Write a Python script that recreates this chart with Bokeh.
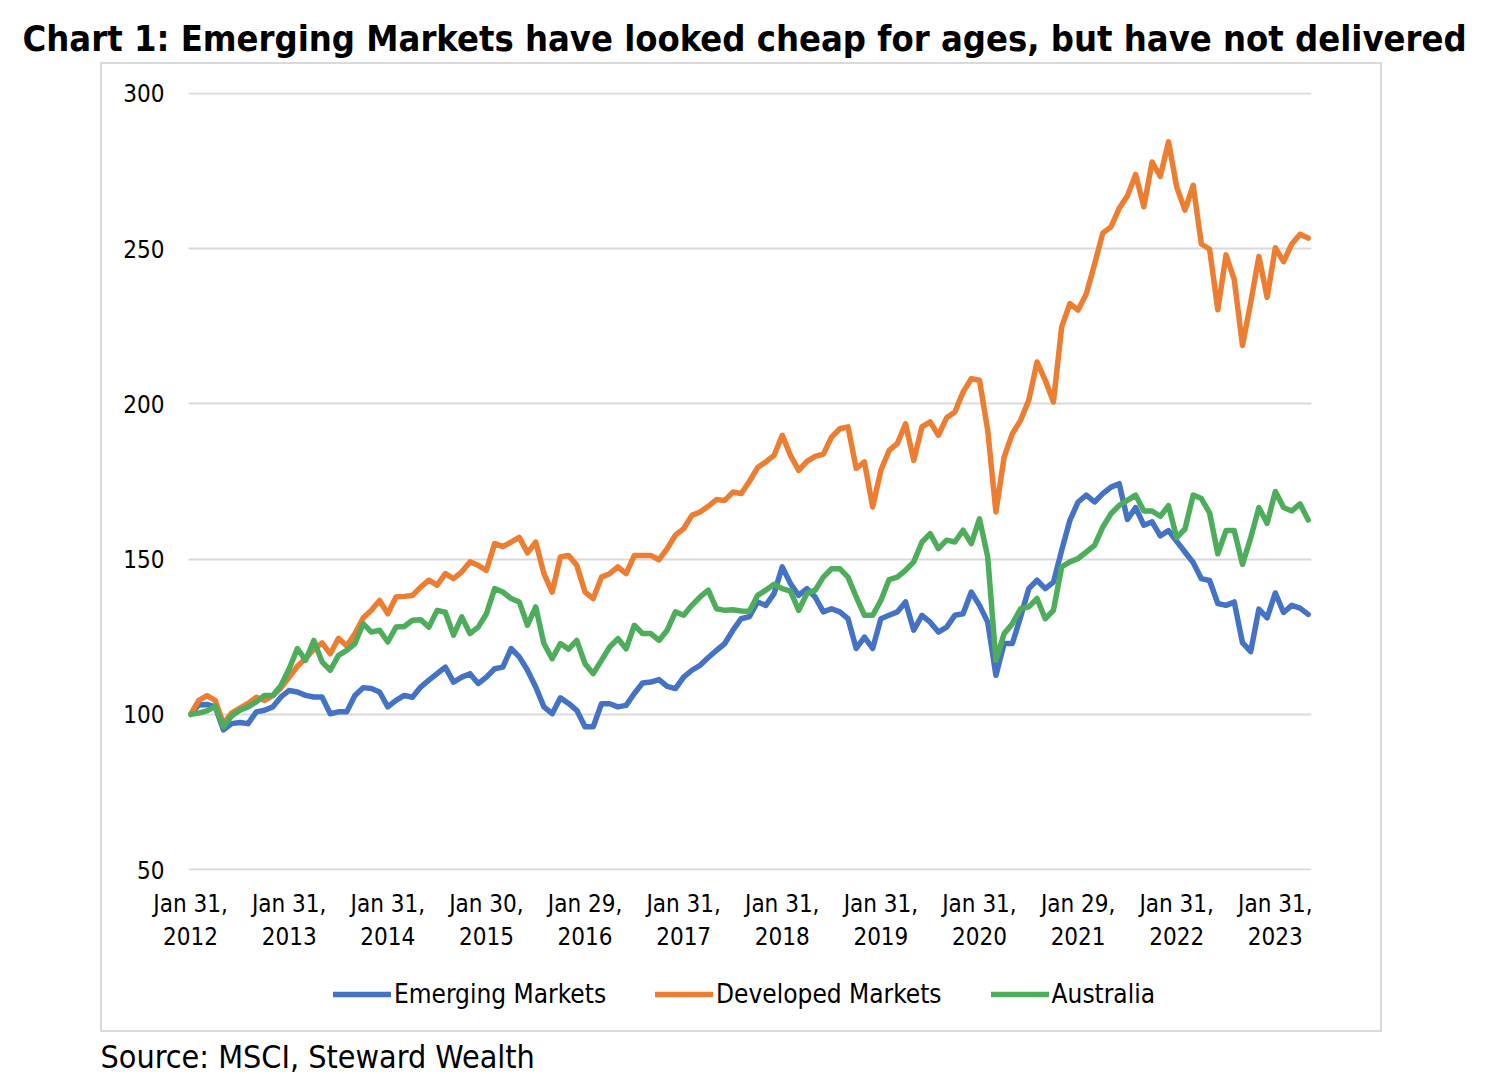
from bokeh.plotting import figure
from bokeh.layouts import column
from bokeh.models import (Range1d, FixedTicker, Legend, LegendItem, Title, Label,
                          ColumnDataSource, InlineStyleSheet)
from bokeh.embed import file_html
from bokeh.resources import INLINE

FONT = "DejaVu Sans Condensed"

# month index 0 = Jan 2012 ... 136 = May 2023
tick_months = [0, 12, 24, 36, 48, 60, 72, 84, 96, 108, 120, 132]
tick_labels = ["Jan 31,\n2012", "Jan 31,\n2013", "Jan 31,\n2014", "Jan 30,\n2015",
               "Jan 29,\n2016", "Jan 31,\n2017", "Jan 31,\n2018", "Jan 31,\n2019",
               "Jan 31,\n2020", "Jan 29,\n2021", "Jan 31,\n2022", "Jan 31,\n2023"]
y_ticks = [50, 100, 150, 200, 250, 300]
series_names = ["Emerging Markets", "Developed Markets", "Australia"]

emerging = [
    100, 103, 103.2, 102.4, 95, 97, 97.4, 97, 100.8, 101.3, 102.4, 105.6,
    107.7, 107.2, 106.1, 105.6, 105.6, 100.2, 100.8, 100.8, 106.1, 108.6, 108.3, 107.2,
    102.4, 104.5, 106.1, 105.5, 108.8, 111, 113.1, 115.2, 110.4, 112, 113.1, 109.9,
    112, 114.7, 115.2, 121.2, 118.5, 114.2, 108.8, 102.4, 100.2, 105.3, 103.5, 101.3,
    96, 96, 103.4, 103.4, 102.4, 102.9, 106.7, 110.1, 110.4, 111.2, 109, 108.3,
    112, 114.2, 115.8, 118.3, 120.6, 122.8, 127.1, 130.8, 131.5, 136.2, 135.1, 138.9,
    147.5, 142.1, 138.3, 140.5, 137.8, 133, 134, 133, 130.8, 121.2, 124.9, 121.2,
    130.8, 131.9, 133, 136.2, 127.1, 131.9, 129.7, 126.5, 128.1, 131.9, 132.4, 139.4,
    135.1, 129.7, 112.6, 122.8, 122.8, 131.4, 140.5, 143.2, 140.5, 142.6, 152.8, 162.5,
    168.4, 170.6, 168.4, 171.1, 173.2, 174.3, 162.8, 166.6, 160.9, 162, 157.5, 159.2,
    155.7, 152.3, 148.9, 143.7, 143.1, 135.7, 135.1, 136.2, 123.1, 120.2, 133.9, 131.1,
    139.1, 132.8, 135.1, 134.2, 132.2]

developed = [
    100, 104.5, 106, 104.5, 97, 100.5, 102, 103.5, 105.5, 104.5, 106, 108.5,
    112, 115.5, 118, 121, 123, 119.5, 124.5, 122, 126, 131, 133.5, 136.7,
    132.4, 137.8, 138, 138.3, 141, 143.2, 141.6, 145.3, 143.7, 145.9, 149.1, 148,
    146.4, 155, 154, 155.5, 157, 152, 155.5, 145.3, 139.4, 150.7, 151.2, 148,
    139.4, 137.3, 144.2, 145.3, 147.5, 145.3, 151.2, 151.2, 151.2, 149.8, 153.4, 157.7,
    159.8, 164.1, 165.2, 167, 169.2, 168.9, 171.6, 171.1, 175, 179.5, 181.3, 183.4,
    189.9, 183.4, 178.6, 181.5, 183.1, 183.8, 189.3, 192, 192.6, 179.2, 181.3, 166.8,
    178.6, 185, 187.2, 193.6, 181.8, 192.6, 194.2, 189.9, 195.5, 197.4, 203.8, 208.1,
    207.6, 191.5, 165.2, 182.9, 190.4, 194.7, 201.2, 213.5, 207.6, 200.6, 224.8, 232.3,
    230.2, 235.5, 245, 255, 257, 263, 267, 273.9, 263.5, 277.9, 273.3, 284.4,
    269.8, 262.4, 270.4, 251.5, 249.8, 230.3, 248, 240, 218.8, 232.6, 247.5, 234.3,
    250.3, 245.8, 251.5, 254.6, 253.4]

australia = [
    100, 100.4, 101.1, 102.6, 96, 99.5, 101.3, 102.4, 104, 106.1, 106.1, 109.3,
    114.7, 121.2, 117.4, 123.8, 116.9, 114.2, 119, 120.6, 122.8, 129.2, 126.5, 127.1,
    123.3, 128.1, 128.3, 130.3, 130.5, 128.1, 133.5, 132.9, 125.5, 131.4, 126, 128.1,
    132.4, 140.5, 139.4, 137.3, 136.2, 128.7, 134.6, 122.8, 117.9, 122.8, 121, 123.8,
    116.3, 113.1, 117.4, 121.7, 124.4, 121.1, 128.7, 126, 126, 123.8, 127.1, 133,
    131.9, 135.1, 137.8, 140, 134, 133.5, 133.7, 133.3, 133.2, 138.3, 140, 141.9,
    140.5, 139.7, 133.5, 138.9, 140, 144.2, 146.9, 146.9, 144.2, 137.8, 131.9, 131.9,
    136.7, 143.4, 144.2, 146.4, 149.1, 155.5, 158.2, 153.4, 156.1, 155.5, 159.3, 155,
    163, 150.7, 117.4, 126, 129.2, 134, 134.6, 137.3, 130.8, 133.5, 147.5, 149.1,
    150.2, 152.3, 154.4, 160.3, 164.6, 167.3, 168.9, 170.6, 165.5, 165.5, 163.8, 167.2,
    156.9, 159.7, 170.6, 169.5, 164.9, 151.7, 159.2, 159.2, 148.3, 156.9, 166.6, 161.5,
    171.8, 166.6, 165.5, 167.8, 162.6]

colors = ["#4472C4", "#ED7D31", "#4EAD5B"]
columns = ["em", "dm", "au"]
months = list(range(len(emerging)))

src = ColumnDataSource(dict(m=months, em=emerging, dm=developed, au=australia))

box_css = InlineStyleSheet(css="""
:host { position: relative; }
:host::after {
  content: "";
  position: absolute;
  left: 100px; top: 62px;
  width: 1282px; height: 970px;
  box-sizing: border-box;
  border: 2px solid #d9d9d9;
  pointer-events: none;
  z-index: 5;
}
""")

# ---------------- main chart ----------------
p = figure(frame_width=1123, frame_height=778, output_backend="svg", toolbar_location=None,
           x_range=Range1d(-0.25, 136.4), y_range=Range1d(49.7, 300.3),
           min_border_left=188, min_border_right=169,
           min_border_top=92, min_border_bottom=0)
p.frame_align = False
p.title = None
p.background_fill_color = "white"
p.border_fill_color = "white"
p.outline_line_color = None

# spacer between the title and the plot frame (added first = nearest the frame)
p.add_layout(Title(text=" ", text_font_size="1px", standoff=15), "above")
p.add_layout(Title(text="Chart 1: Emerging Markets have looked cheap for ages, but have not delivered",
                   align="left", offset=-166, vertical_align="middle", standoff=30,
                   text_font=FONT, text_font_size="36px", text_font_style="bold",
                   text_color="#000000"), "above")

for ax in (p.xaxis[0], p.yaxis[0]):
    ax.axis_line_color = None
    ax.major_tick_line_color = None
    ax.minor_tick_line_color = None
    ax.major_tick_out = 0
    ax.major_tick_in = 0
    ax.minor_tick_out = 0
    ax.minor_tick_in = 0
    ax.major_label_text_font = FONT
    ax.major_label_text_font_size = "24px"
    ax.major_label_text_color = "#000000"

p.yaxis.ticker = FixedTicker(ticks=y_ticks)
p.yaxis.major_label_standoff = 24
p.xaxis.ticker = FixedTicker(ticks=tick_months)
p.xaxis.major_label_overrides = {m: t for m, t in zip(tick_months, tick_labels)}
p.xaxis.major_label_standoff = 19
p.xaxis.major_label_text_line_height = 1.18

p.xgrid.grid_line_color = None
p.ygrid.grid_line_color = "#d9d9d9"
p.ygrid.grid_line_width = 2

for col, c in zip(columns, colors):
    p.line("m", col, source=src, color=c, line_width=5.5,
           line_join="round", line_cap="round")

# ---------------- legend + source strip ----------------
H2 = 122
p2 = figure(width=1480, height=H2, output_backend="svg", toolbar_location=None,
            x_range=Range1d(0, 1480), y_range=Range1d(-1000, -1000 + H2),
            x_axis_type=None, y_axis_type=None, min_border=0)
p2.frame_align = False
p2.title = None
p2.outline_line_color = None
p2.background_fill_color = "white"
p2.border_fill_color = "white"
p2.xgrid.visible = False
p2.ygrid.visible = False

# legend keys: same series, drawn outside this strip's visible range
key_renderers = [p2.line("m", col, source=src, color=c, line_width=5.5, line_cap="round")
                 for col, c in zip(columns, colors)]

legend = Legend(items=[LegendItem(label=n, renderers=[r])
                       for n, r in zip(series_names, key_renderers)],
                location=(333, 66), orientation="horizontal", spacing=49,
                padding=0, margin=0, glyph_width=58, glyph_height=28,
                label_standoff=3, label_text_font_size="26px", label_text_font=FONT,
                label_text_color="#000000",
                border_line_color=None, background_fill_alpha=0)
p2.add_layout(legend)

p2.add_layout(Label(x=100, y=19, x_units="screen", y_units="screen",
                    text="Source: MSCI, Steward Wealth", text_align="left",
                    text_baseline="middle", text_font=FONT, text_font_size="32px",
                    text_color="#000000"))

layout = column(p, p2, spacing=0, stylesheets=[box_css])

open("out.html", "w").write(file_html(layout, INLINE))
